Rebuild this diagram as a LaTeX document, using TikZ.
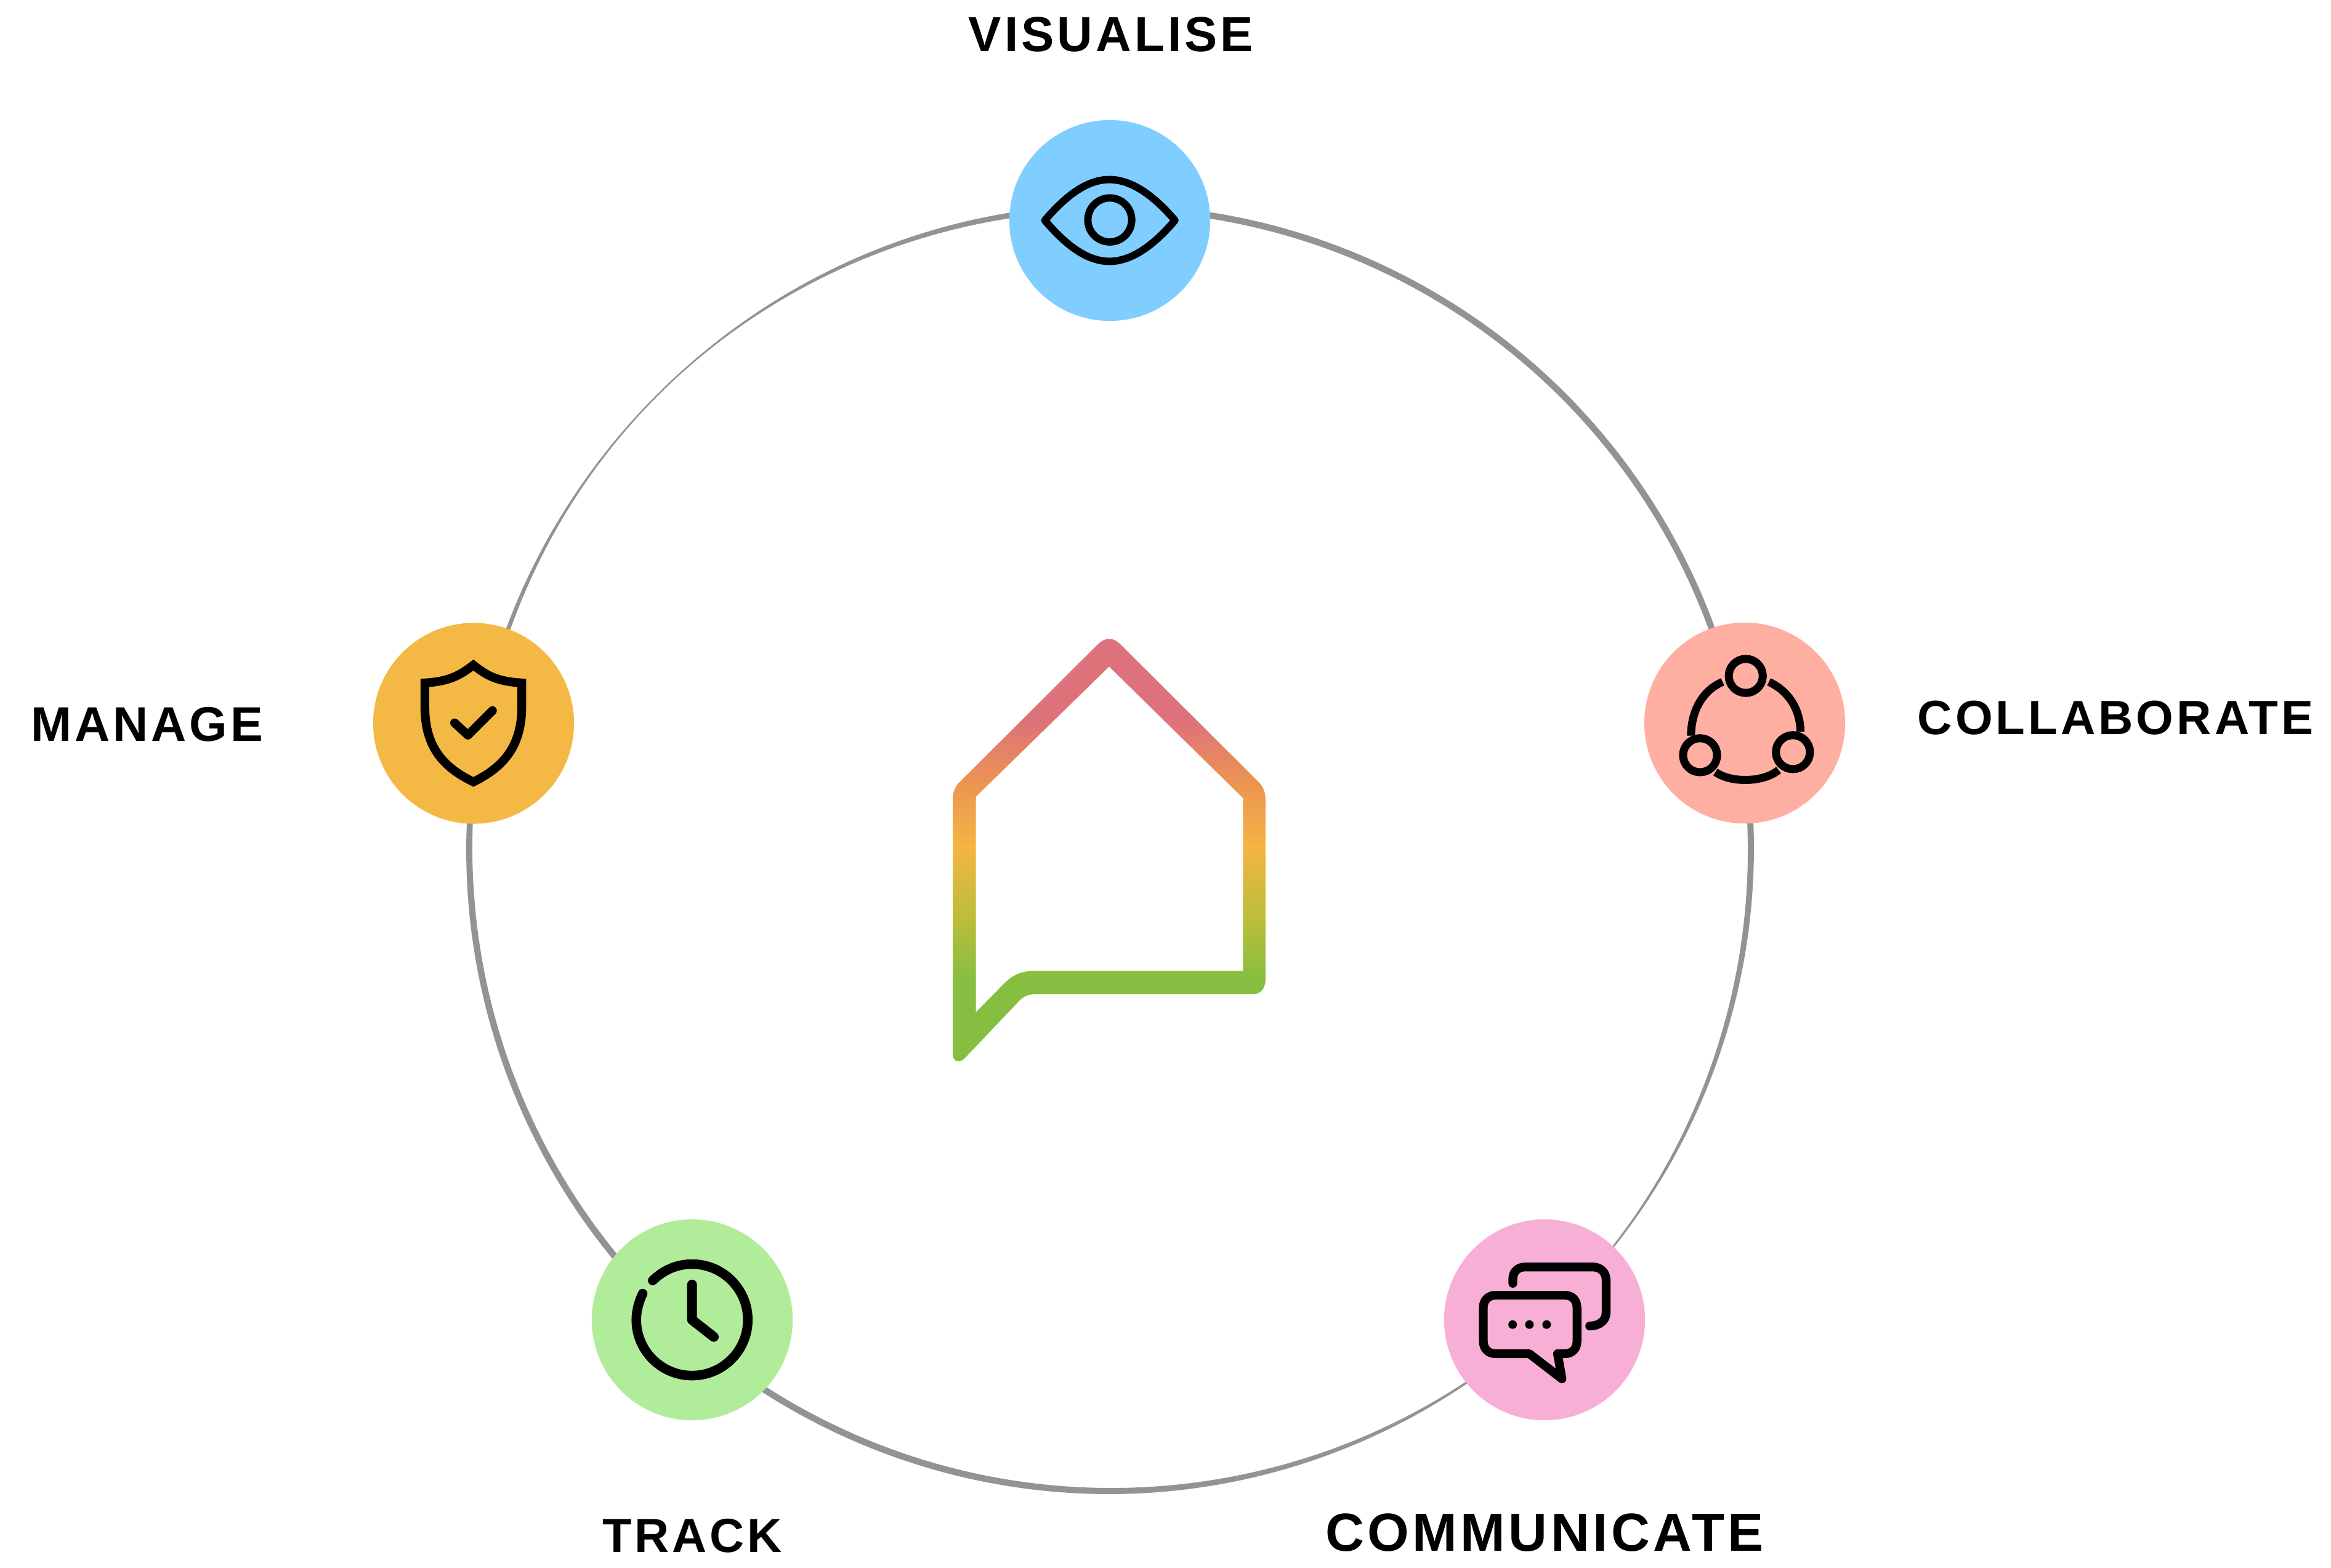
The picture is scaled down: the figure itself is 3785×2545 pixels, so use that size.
\documentclass[tikz,border=0pt]{standalone}
\usepackage{fontspec}
\newfontfamily\lab{Liberation Sans}[LetterSpace=6.4]
\definecolor{ringgrey}{HTML}{939393}
\definecolor{cblue}{HTML}{80CEFF}
\definecolor{csalmon}{HTML}{FFAEA2}
\definecolor{cpink}{HTML}{F7AFD5}
\definecolor{cgreen}{HTML}{B1EC9A}
\definecolor{camber}{HTML}{F4B945}
\definecolor{hgreen}{HTML}{85BE40}
\definecolor{holive}{HTML}{BDBD3A}
\definecolor{hamber}{HTML}{F4B543}
\definecolor{horange}{HTML}{EC9550}
\definecolor{hpink}{HTML}{DE727A}
\pgfdeclareverticalshading{homeshade}{100bp}{
  color(0bp)=(hgreen); color(34.5bp)=(hgreen); color(42.3bp)=(holive);
  color(50.5bp)=(hamber); color(57.9bp)=(horange); color(65.3bp)=(hpink);
  color(100bp)=(hpink)}
\pgfmathdeclarefunction{ringw}{1}{\pgfmathparse{10.5-8*exp(-((#1-135)/28)^2)-8*exp(-((#1+45)/28)^2)}}
\tikzset{
  disc/.style={circle,inner sep=0pt,minimum size=3.26cm,fill=#1},
  caption/.style={font=\lab\bfseries\fontsize{#1}{30}\selectfont,text=black,inner sep=0pt},
  glyph/.style={draw=black,line width=#1mm,line join=round,fill=none},
  zoomed/.style={shift={#1},x=0.0033333cm,y=-0.0033333cm}
}
\begin{document}
\begin{tikzpicture}[x=0.01cm,y=-0.01cm]
\useasboundingbox (0,0) rectangle (3785,2545);
\fill[white] (0,0) rectangle (3785,2545);
% ring
\fill[ringgrey,even odd rule]
  plot[domain=-130:230,samples=361] ({1802.5+(1040.5+ringw(\x)/2)*cos(\x)},{1379-(1042+ringw(\x)/2)*sin(\x)}) -- cycle
  plot[domain=-130:230,samples=361] ({1802.5+(1040.5-ringw(\x)/2)*cos(\x)},{1379-(1042-ringw(\x)/2)*sin(\x)}) -- cycle;
% discs
\node[disc=cblue] (visualise) at (1802,358) {};
\node[disc=csalmon] (collaborate) at (2833,1174) {};
\node[disc=cpink] (communicate) at (2508,2143) {};
\node[disc=cgreen] (track) at (1124,2143) {};
\node[disc=camber] (manage) at (769,1174.5) {};
% captions
\node[caption=22.7] (tv) at (1804,56) {VISUALISE};
\node[caption=22.2] (tc) at (3435,1166) {COLLABORATE};
\node[caption=22.5] (tm) at (239,1176) {MANAGE};
\node[caption=22.1] (tt) at (1124,2494) {TRACK};
\node[caption=24.75] (tk) at (2508,2489) {COMMUNICATE};
% eye
\begin{scope}[shift={(1600,0)},x=0.0033333cm,y=-0.0034435cm]
  \draw[glyph=1.2] (290,1037) .. controls (385,930) and (490,845) .. (605,845) .. controls (720,845) and (830,930) .. (925,1037) .. controls (830,1145) and (720,1230) .. (605,1230) .. controls (490,1230) and (385,1145) .. (290,1037) -- cycle;
  \draw[glyph=1.2] (607,1035) circle [x radius=107,y radius=103.5];
\end{scope}
% collaborate
\begin{scope}[zoomed={(2640,1000)}]
  \draw[glyph=1.3] (585,293) circle [radius=83];
  \draw[glyph=1.3] (362,680) circle [radius=83];
  \draw[glyph=1.3] (815,665) circle [radius=83];
  \draw[glyph=1.3] (318,585) .. controls (318,470) and (370,365) .. (472,322);
  \draw[glyph=1.3] (698,322) .. controls (790,365) and (850,450) .. (852,565);
  \draw[glyph=1.3] (437,762) .. controls (510,815) and (670,815) .. (745,752);
\end{scope}
% speech bubbles
\begin{scope}[zoomed={(2320,1960)}]
  \draw[glyph=1.42,line cap=round] (410,372) -- (410,350) .. controls (410,315) and (435,292) .. (470,292) -- (800,292) .. controls (840,292) and (865,320) .. (865,355) -- (865,515) .. controls (865,555) and (830,580) .. (785,580);
  \draw[glyph=1.42] (490,715) -- (650,838) -- (628,715) -- (665,715) .. controls (700,715) and (723,690) .. (723,655) -- (723,490) .. controls (723,455) and (700,430) .. (665,430) -- (325,430) .. controls (290,430) and (266,455) .. (266,490) -- (266,655) .. controls (266,690) and (290,715) .. (325,715) -- cycle;
  \fill[black] (409,573) circle [radius=21];
  \fill[black] (491,573) circle [radius=21];
  \fill[black] (575,573) circle [radius=21];
\end{scope}
% clock
\begin{scope}[zoomed={(950,1960)}]
  \draw[glyph=1.55,line cap=round] (330,358) .. controls (385,305) and (450,278) .. (522,278) .. controls (672,278) and (794,400) .. (794,550) .. controls (794,700) and (672,822) .. (522,822) .. controls (372,822) and (250,700) .. (250,550) .. controls (250,505) and (263,460) .. (281,422);
  \draw[glyph=1.6,line cap=round] (522,378) -- (522,550) -- (628,633);
\end{scope}
% shield
\begin{scope}[zoomed={(600,1000)}]
  \draw[glyph=1.42,line join=miter] (507,240) .. controls (440,290) and (390,320) .. (270,327) -- (270,440) .. controls (270,620) and (340,730) .. (507,810) .. controls (670,730) and (743,620) .. (743,440) -- (743,327) .. controls (620,320) and (570,290) .. (507,240) -- cycle;
  \draw[glyph=1.42,line cap=round] (415,522) -- (480,582) -- (600,462);
\end{scope}
% house
\begin{scope}[shift={(1497,1000)},x=0.00384cm,y=-0.00485cm]
  \shade[shading=homeshade] (790,77) .. controls (810,77) and (825,85) .. (840,97) -- (1420,555) .. controls (1440,570) and (1450,590) .. (1450,615) -- (1450,1215) .. controls (1450,1245) and (1430,1265) .. (1400,1265) -- (480,1265) .. controls (450,1265) and (430,1272) .. (410,1288) -- (180,1480) .. controls (155,1498) and (130,1490) .. (130,1465) -- (130,615) .. controls (130,590) and (140,570) .. (160,555) -- (740,97) .. controls (755,85) and (770,77) .. (790,77) -- cycle;
  \fill[white] (790,170) -- (1355,610) -- (1355,1187) -- (480,1187) .. controls (420,1187) and (380,1200) .. (340,1235) -- (228,1325) -- (228,605) -- cycle;
\end{scope}
\end{tikzpicture}
\end{document}
